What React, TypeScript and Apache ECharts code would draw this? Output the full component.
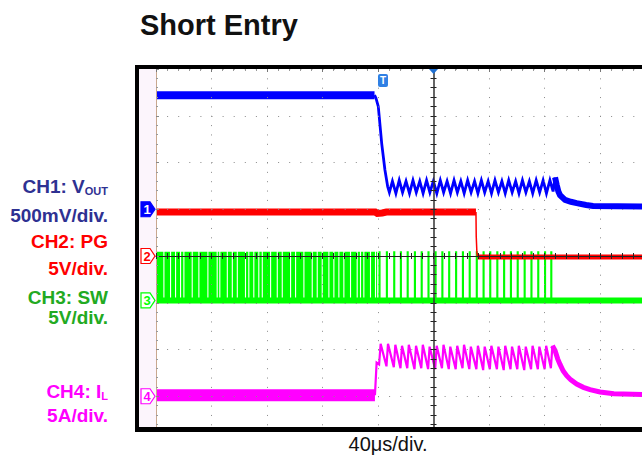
import React, { useEffect, useRef } from "react";
import * as echarts from "echarts";

const FONT = '"Liberation Sans", Arial, Helvetica, sans-serif';

const TITLE = "Short Entry";
const TIME_LABEL = "40μs/div.";
const TIME_MIN = -200; // µs
const TIME_MAX = 200;
const TIME_DIV = 40; // µs per division
const DIV_MIN = -4;
const DIV_MAX = 4;

// scale = units per division, offset = ground marker position (divisions)
const CH1 = { label: "1", scale: 0.5, offset: 1.0, color: "#0000ff" }; // Vout (V)
const CH2 = { label: "2", scale: 5, offset: 0, color: "#ff0000" }; // PG (V)
const CH3 = { label: "3", scale: 5, offset: -0.95, color: "#00ff00" }; // SW (V)
const CH4 = { label: "4", scale: 5, offset: -3.0, color: "#ff00ff" }; // IL (A)

// ---- CH1: Vout (V) vs time (µs)
const voutHigh = [[-200, 1.22], [-42.5, 1.22]];
const voutRipple = [
  [-42.5, 1.22], [-41.5, 1.19], [-39.8, 1.1], [-37.3, 0.7], [-35.0, 0.42], [-33.0, 0.24], [-31.8, 0.18],
  [-29.6, 0.3], [-27.1, 0.17], [-24.7, 0.31], [-22.3, 0.18], [-19.8, 0.3], [-17.3, 0.17], [-14.8, 0.31],
  [-12.4, 0.18], [-9.9, 0.3], [-7.5, 0.17], [-5.0, 0.31], [-2.6, 0.18], [-0.1, 0.3], [2.4, 0.17],
  [4.9, 0.31], [7.3, 0.18], [9.8, 0.3], [12.3, 0.17], [14.8, 0.31], [17.2, 0.18], [19.7, 0.3],
  [22.1, 0.17], [24.6, 0.31], [27.1, 0.18], [29.6, 0.3], [32.0, 0.17], [34.5, 0.31], [36.9, 0.18],
  [39.4, 0.3], [41.8, 0.17], [44.3, 0.31], [46.8, 0.18], [49.3, 0.3], [51.7, 0.17], [54.2, 0.31],
  [56.7, 0.18], [59.2, 0.3], [61.6, 0.17], [64.1, 0.31], [66.6, 0.18], [69.1, 0.3], [71.5, 0.17],
  [74.0, 0.31], [76.5, 0.18], [79.0, 0.31], [81.4, 0.17], [83.9, 0.31], [86.2, 0.19], [87.6, 0.34],
];
const voutTail = [
  [87.6, 0.34], [88.8, 0.26], [90.0, 0.19], [91.2, 0.15], [94.8, 0.1], [99, 0.08], [103.2, 0.065],
  [110, 0.045], [115, 0.035], [160, 0.027],
];

// ---- CH2: PG (V)
const pgHigh = [[-200, 4.7], [-42, 4.7], [-40.5, 4.55], [-37, 4.6], [-34, 4.7], [30.6, 4.7]];
const pgFall = [[30.6, 4.7], [30.8, 2.1], [31.3, 0.3], [31.8, -0.1]];
const pgLow = [[31.8, -0.1], [160, -0.1]];

// ---- CH3: SW (V)
const swHigh = 5.2;
const swLowBand = [[-200, 0], [160, 0]];
// dense switching: times where the node briefly drops low (white gaps)
const swGaps = [
  -194.7, -189.9, -186.3, -182.7, -180.3, -174.3, -169.5, -163.0, -156.3, -154.4, -149.0, -145.4,
  -141.8, -135.9, -133.5, -129.9, -126.3, -123.8, -117.8, -113.0, -109.4, -103.4, -99.8, -93.8,
  -87.8, -84.2, -80.6, -75.8, -72.2, -68.6, -65.0, -60.2, -55.4, -53.0, -50.6, -45.8, -42.2,
];
const swDenseEnd = -40.6;
// short-circuit operation: narrow on-pulses
const swPulses = [
  -39.2, -33.9, -28.6, -23.8, -18.9, -13.7, -8.8, -3.9, 1.2, 6.1, 11.0, 16.0, 20.9, 25.8, 30.9,
  35.8, 40.6, 45.7, 50.6, 55.5, 60.4, 65.4, 70.3, 75.2, 80.1, 84.6,
];

// ---- CH4: IL (A)
const ilBase = [[-200, 0.1], [-42.2, 0.1]];
const ilRipple = [
  [-42.2, 0.1], [-41.0, 3.6], [-39.2, 3.4], [-38.1, 5.6], [-33.9, 3.2], [-32.8, 5.6], [-28.6, 3.1],
  [-27.5, 5.5], [-23.8, 3.0], [-22.7, 5.4], [-18.9, 3.0], [-17.8, 5.5], [-13.7, 2.9], [-12.6, 5.4],
  [-8.8, 3.0], [-7.7, 5.5], [-3.9, 2.9], [-2.8, 5.3], [1.2, 2.9], [2.3, 5.4], [6.1, 3.0], [7.2, 5.5],
  [11.0, 2.9], [12.1, 5.3], [16.0, 2.9], [17.1, 5.4], [20.9, 3.0], [22.0, 5.5], [25.8, 2.9],
  [26.9, 5.3], [30.9, 2.9], [32.0, 5.4], [35.8, 2.8], [36.9, 5.3], [40.6, 2.9], [41.7, 5.4],
  [45.7, 2.9], [46.8, 5.3], [50.6, 2.8], [51.7, 5.4], [55.5, 2.9], [56.6, 5.3], [60.4, 2.9],
  [61.5, 5.4], [65.4, 2.8], [66.5, 5.3], [70.3, 2.9], [71.4, 5.4], [75.2, 2.9], [76.3, 5.3],
  [80.1, 2.9], [81.2, 5.4], [84.6, 3.0], [85.7, 5.4],
];
const ilTail = [
  [85.7, 5.4], [87.6, 4.9], [89.5, 4.0], [91.2, 3.4], [93.5, 2.7], [96, 2.2], [99, 1.75],
  [103.2, 1.3], [108, 0.95], [112.8, 0.7], [120, 0.45], [130, 0.28], [160, 0.15],
];

const TRIGGER_T = -36.4;

type Ch = { label: string; scale: number; offset: number; color: string };
const toDiv = (pts: number[][], ch: Ch) => pts.map(([t, v]) => [t, ch.offset + v / ch.scale]);

function buildSwDense() {
  const pts: number[][] = [[TIME_MIN, swHigh]];
  swGaps.forEach((g) => {
    pts.push([g, 0], [g + 0.8, swHigh]);
  });
  pts.push([swDenseEnd, 0]);
  return pts;
}
function buildSwPulses() {
  const pts: number[][] = [[swDenseEnd, 0]];
  swPulses.forEach((p) => {
    pts.push([p, swHigh], [p + 0.6, 0]);
  });
  pts.push([160, 0]);
  return pts;
}

const line = (data: number[][], color: string, width: number, z = 3, extra: any = {}) => ({
  type: "line",
  data,
  showSymbol: false,
  symbol: "none",
  silent: true,
  clip: true,
  z,
  lineStyle: { color, width, cap: "butt", join: "miter" },
  ...extra,
});

const CANVAS_W = 642;
const CANVAS_H = 458;
const INNER_W = 740; // the scope screen continues past the right edge of the picture

export default function App() {
  const ref = useRef<HTMLDivElement>(null);
  useEffect(() => {
    if (!ref.current) return;
    const chart = echarts.init(ref.current, null, { renderer: "svg" });
    const gridLeft = 156;
    const gridTop = 69;
    const divW = 55.5;
    const divH = 46.75;
    const tickColor = "#222";
    const common = {
      type: "value",
      min: TIME_MIN,
      max: TIME_MAX,
      interval: TIME_DIV,
      axisLabel: { show: false },
    };
    const ycommon = {
      type: "value",
      min: DIV_MIN,
      max: DIV_MAX,
      interval: 1,
      axisLabel: { show: false },
    };
    const sw0 = CH3.offset;
    const option: any = {
      animation: false,
      backgroundColor: "#ffffff",
      title: {
        text: TITLE,
        left: 135,
        top: 5,
        textStyle: { fontSize: 29, fontWeight: "bold", color: "#111", fontFamily: FONT },
      },
      grid: {
        left: gridLeft,
        top: gridTop,
        width: divW * 10,
        height: divH * 8,
        containLabel: false,
        outerBoundsMode: "none",
      },
      xAxis: [
        {
          ...common,
          position: "bottom",
          z: 6,
          axisLine: { show: true, onZero: true, lineStyle: { color: tickColor, width: 1 } },
          axisTick: { show: true, inside: true, length: 3, lineStyle: { color: tickColor } },
          minorTick: { show: true, splitNumber: 5, length: 3, lineStyle: { color: tickColor } },
          splitLine: { show: true, lineStyle: { color: "#8a8a8a", width: 1, type: [1, divH / 5 - 1] } },
        },
        {
          ...common,
          position: "top",
          z: 6,
          axisLine: { show: false, onZero: true },
          axisTick: { show: true, inside: true, length: 3, lineStyle: { color: tickColor } },
          minorTick: { show: true, splitNumber: 5, length: 3, lineStyle: { color: tickColor } },
          splitLine: { show: false },
        },
        {
          ...common,
          position: "top",
          z: 6,
          axisLine: { show: false, onZero: false },
          axisTick: { show: true, inside: true, length: 3, lineStyle: { color: "#777" } },
          minorTick: { show: true, splitNumber: 5, length: 2, lineStyle: { color: "#999" } },
          splitLine: { show: false },
        },
      ],
      yAxis: [
        {
          ...ycommon,
          position: "left",
          z: 6,
          axisLine: { show: true, onZero: true, lineStyle: { color: "#333", width: 1.5 } },
          axisTick: { show: true, inside: true, length: 3, lineStyle: { color: tickColor } },
          minorTick: { show: true, splitNumber: 5, length: 3, lineStyle: { color: tickColor } },
          splitLine: { show: true, lineStyle: { color: "#8a8a8a", width: 1, type: [1, divW / 5 - 1] } },
        },
        {
          ...ycommon,
          position: "right",
          z: 6,
          axisLine: { show: false, onZero: true },
          axisTick: { show: true, inside: true, length: 3, lineStyle: { color: tickColor } },
          minorTick: { show: true, splitNumber: 5, length: 3, lineStyle: { color: tickColor } },
          splitLine: { show: false },
        },
        {
          ...ycommon,
          position: "left",
          z: 6,
          axisLine: { show: true, onZero: false, lineStyle: { color: "#c9a88e", width: 1 } },
          axisTick: { show: true, inside: true, length: 3, lineStyle: { color: "#888" } },
          minorTick: { show: true, splitNumber: 5, length: 2, lineStyle: { color: "#999" } },
          splitLine: { show: false },
        },
      ],
      series: [
        line(toDiv(buildSwDense(), CH3), CH3.color, 0, 2, {
          step: "end",
          areaStyle: { color: CH3.color, opacity: 1, origin: sw0 },
        }),
        line(toDiv(swLowBand, CH3), CH3.color, 6, 2),
        line(toDiv(buildSwPulses(), CH3), CH3.color, 1.3, 2, { step: "end" }),
        line(toDiv(ilBase, CH4), CH4.color, 12, 3),
        line(toDiv(ilRipple, CH4), CH4.color, 2.2, 3),
        line(toDiv(ilTail, CH4), CH4.color, 5, 3),
        line(toDiv(pgHigh, CH2), CH2.color, 7, 4),
        line(toDiv(pgFall, CH2), CH2.color, 1.5, 4),
        line(toDiv(pgLow, CH2), CH2.color, 5, 4),
        line(toDiv(voutHigh, CH1), CH1.color, 8, 5),
        line(toDiv(voutRipple, CH1), CH1.color, 2.8, 5),
        line(toDiv(voutTail, CH1), CH1.color, 6, 5),
      ],
    };
    chart.setOption(option);

    const px = (t: number, d: number) =>
      chart.convertToPixel({ xAxisIndex: 0, yAxisIndex: 0 }, [t, d]) as number[];

    const [gx0] = px(TIME_MIN, 0);
    const [, gyTop] = px(TIME_MIN, DIV_MAX);
    const frameL = 135;
    const frameB = 427;

    const marker = (ch: Ch, filled: boolean) => {
      const [x, y] = px(TIME_MIN, ch.offset);
      return {
        type: "group",
        z: 20,
        children: [
          {
            type: "polygon",
            z: 20,
            shape: {
              points: [
                [x - 15, y - 7.5],
                [x - 6, y - 7.5],
                [x - 1, y],
                [x - 6, y + 7.5],
                [x - 15, y + 7.5],
              ],
            },
            style: { fill: filled ? ch.color : "#ffffff", stroke: ch.color, lineWidth: 1.2 },
          },
          {
            type: "text",
            z: 21,
            x: x - 9,
            y: y + 0.5,
            style: {
              text: ch.label,
              fill: filled ? "#ffffff" : ch.color,
              font: `bold 13px ${FONT}`,
              align: "center",
              verticalAlign: "middle",
            },
          },
        ],
      };
    };

    const [tx] = px(TRIGGER_T, 0);
    const [cx] = px(0, 0);

    const label = (text: string, y: number, color: string, rich?: any) => ({
      type: "text",
      z: 20,
      x: 108,
      y,
      style: rich
        ? { text, rich, align: "right", verticalAlign: "middle" }
        : {
            text,
            fill: color,
            font: `bold 19px ${FONT}`,
            align: "right",
            verticalAlign: "middle",
          },
    });
    const subRich = (color: string) => ({
      a: { fill: color, fontSize: 19, fontWeight: "bold", fontFamily: FONT, lineHeight: 22, verticalAlign: "bottom" },
      b: { fill: color, fontSize: 11, fontWeight: "bold", fontFamily: FONT, lineHeight: 10, verticalAlign: "bottom" },
    });

    chart.setOption({
      graphic: {
        elements: [
          {
            type: "rect",
            z: 1,
            shape: { x: frameL + 4, y: gyTop, width: gx0 - frameL - 4, height: frameB - gyTop },
            style: { fill: "#fcf5fc" },
          },
          {
            type: "rect",
            z: 18,
            shape: { x: 0, y: frameB + 4, width: INNER_W, height: 40 },
            style: { fill: "#ffffff" },
          },
          { type: "rect", z: 19, shape: { x: frameL, y: 65, width: INNER_W, height: 4 }, style: { fill: "#000" } },
          { type: "rect", z: 19, shape: { x: frameL, y: 65, width: 4, height: frameB - 65 + 5 }, style: { fill: "#000" } },
          { type: "rect", z: 19, shape: { x: frameL, y: frameB, width: INNER_W, height: 5 }, style: { fill: "#000" } },
          {
            type: "text",
            z: 20,
            x: 388,
            y: 444,
            style: { text: TIME_LABEL, fill: "#111", font: `20px ${FONT}`, align: "center", verticalAlign: "middle" },
          },
          {
            type: "polygon",
            z: 20,
            shape: { points: [[cx - 4.5, 69], [cx + 4.5, 69], [cx, 74]] },
            style: { fill: "#1f6fd1" },
          },
          {
            type: "rect",
            z: 20,
            shape: { x: tx - 5, y: 74, width: 10, height: 13, r: 2 },
            style: { fill: "#2f80e4" },
          },
          {
            type: "text",
            z: 21,
            x: tx,
            y: 80.5,
            style: { text: "T", fill: "#fff", font: `bold 10px ${FONT}`, align: "center", verticalAlign: "middle" },
          },
          marker(CH1, true),
          marker(CH2, false),
          marker(CH3, false),
          marker(CH4, false),
          label("{a|CH1: V}{b|OUT}", 185, "#2e3192", subRich("#2e3192")),
          label("500mV/div.", 215, "#2e3192"),
          label("CH2: PG", 241, "#ff0000"),
          label("5V/div.", 268, "#ff0000"),
          label("CH3: SW", 297, "#22aa22"),
          label("5V/div.", 317, "#22aa22"),
          label("{a|CH4: I}{b|L}", 390, "#ff00ff", subRich("#ff00ff")),
          label("5A/div.", 415, "#ff00ff"),
        ],
      },
    });

    return () => chart.dispose();
  }, []);
  return (
    <div
      style={{
        position: "fixed",
        left: 0,
        top: 0,
        width: CANVAS_W,
        height: CANVAS_H,
        overflow: "hidden",
        background: "#fff",
      }}
    >
      <div ref={ref} style={{ width: INNER_W, height: CANVAS_H }} />
    </div>
  );
}
